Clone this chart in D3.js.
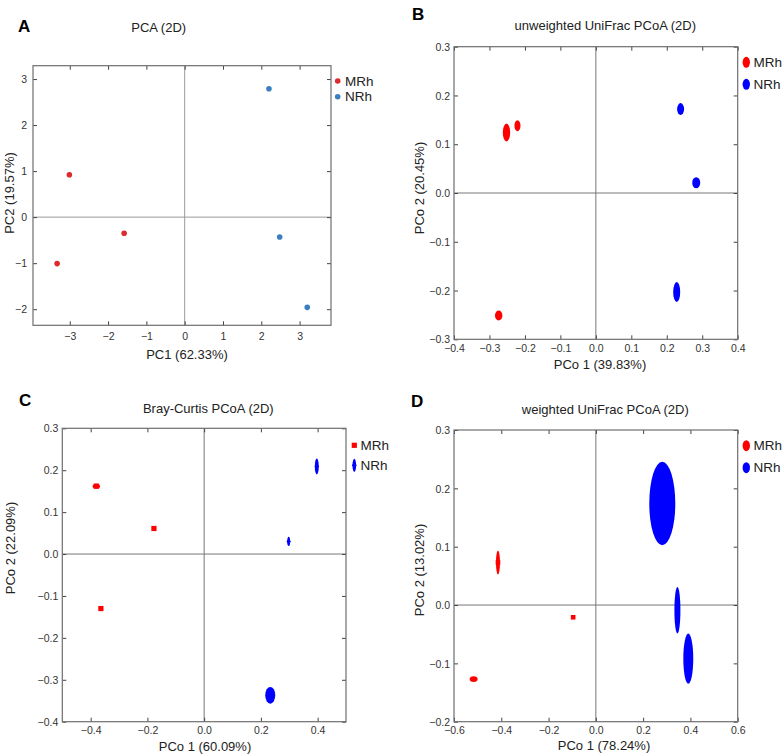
<!DOCTYPE html>
<html>
<head>
<meta charset="utf-8">
<script src="https://cdn.jsdelivr.net/npm/d3@7"></script>
<style>
  html, body { margin: 0; padding: 0; background: #fff; }
  svg { display: block; font-family: "Liberation Sans", Arial, sans-serif; }
</style>
</head>
<body>
<svg id="chart" width="784" height="755"></svg>
<script>
// ---------------- DATA ----------------
const groups = ["MRh", "NRh"];

// A: PCA (2D)
const pcaGroup = ["MRh", "MRh", "MRh", "NRh", "NRh", "NRh"];
const pcaX = [-3.01, -1.58, -3.33, 2.20, 2.48, 3.20];
const pcaY = [0.92, -0.35, -1.01, 2.79, -0.43, -1.96];
const pcaXTicks = [-3, -2, -1, 0, 1, 2, 3];
const pcaYTicks = [-2, -1, 0, 1, 2, 3];

// B: unweighted UniFrac PCoA (2D)
const unwGroup = ["MRh", "MRh", "MRh", "NRh", "NRh", "NRh"];
const unwX = [-0.252, -0.221, -0.274, 0.239, 0.283, 0.228];
const unwY = [0.124, 0.138, -0.251, 0.172, 0.021, -0.203];
const unwSpreadX = [0.0104, 0.0085, 0.0104, 0.0099, 0.0113, 0.0099];
const unwSpreadY = [0.0184, 0.0113, 0.0102, 0.0123, 0.0113, 0.0205];
const unwXTicks = [-0.4, -0.3, -0.2, -0.1, 0.0, 0.1, 0.2, 0.3, 0.4];
const unwYTicks = [-0.3, -0.2, -0.1, 0.0, 0.1, 0.2, 0.3];

// C: Bray-Curtis PCoA (2D)
const bcGroup = ["MRh", "MRh", "MRh", "NRh", "NRh", "NRh"];
const bcX = [-0.380, -0.177, -0.364, 0.397, 0.298, 0.233];
const bcY = [0.162, 0.061, -0.130, 0.209, 0.030, -0.337];
const bcSpreadX = [0.013, 0.0, 0.0, 0.007, 0.005, 0.0176];
const bcSpreadY = [0.006, 0.0, 0.0, 0.019, 0.011, 0.020];
const bcXTicks = [-0.4, -0.2, 0.0, 0.2, 0.4];
const bcYTicks = [-0.4, -0.3, -0.2, -0.1, 0.0, 0.1, 0.2, 0.3];

// D: weighted UniFrac PCoA (2D)
const wGroup = ["MRh", "MRh", "MRh", "NRh", "NRh", "NRh"];
const wX = [-0.414, -0.096, -0.517, 0.281, 0.345, 0.391];
const wY = [0.073, -0.021, -0.127, 0.174, -0.009, -0.092];
const wSpreadX = [0.0085, 0.0, 0.017, 0.055, 0.0127, 0.021];
const wSpreadY = [0.0206, 0.0, 0.0051, 0.0714, 0.040, 0.043];
const wXTicks = [-0.6, -0.4, -0.2, 0.0, 0.2, 0.4, 0.6];
const wYTicks = [-0.2, -0.1, 0.0, 0.1, 0.2, 0.3];

// ---------------- DRAW ----------------
const svg = d3.select("#chart");
const fmt1 = d3.format(".1f");
const fmt0 = d3.format("d");

const panels = [
  {
    letter: "A", title: "PCA (2D)", xLabel: "PC1 (62.33%)", yLabel: "PC2 (19.57%)",
    box: {l: 33, r: 331, t: 65.7, b: 325.3},
    xDom: [-3.96, 3.82], yDom: [-2.35, 3.29],
    xTicks: pcaXTicks, yTicks: pcaYTicks, fmt: fmt0,
    x: pcaX, y: pcaY, g: pcaGroup, sx: null, sy: null,
    colors: {MRh: "#dc2a2e", NRh: "#3b7fc0"},
    marker: "dot",
    letterPos: [18, 32], titlePos: [158.7, 32],
    xLabPos: [187, 359], yLabPos: [9.5, 193],
    legend: {x: 337.7, y: [81, 96.7], tx: 345, sym: ["dot", "dot"]},
    tickFont: 10.5, xTickY: 336, yTickGap: 6, zeroColor: "#9a9a9a"
  },
  {
    letter: "B", title: "unweighted UniFrac PCoA (2D)", xLabel: "PCo 1 (39.83%)", yLabel: "PCo 2 (20.45%)",
    box: {l: 454, r: 737.7, t: 46.7, b: 339.3},
    xDom: [-0.4, 0.4], yDom: [-0.3, 0.3],
    xTicks: unwXTicks, yTicks: unwYTicks, fmt: fmt1,
    x: unwX, y: unwY, g: unwGroup, sx: unwSpreadX, sy: unwSpreadY,
    colors: {MRh: "#ff0000", NRh: "#0000ff"},
    marker: "ellipse",
    letterPos: [412, 20], titlePos: [605.3, 29.5],
    xLabPos: [600, 368.5], yLabPos: [419, 188],
    legend: {x: 746.3, y: [62.3, 84.3], tx: 753.5, sym: ["ell", "ell"]},
    tickFont: 10.5, xTickY: 348, yTickGap: 4, zeroColor: "#777"
  },
  {
    letter: "C", title: "Bray-Curtis PCoA (2D)", xLabel: "PCo 1 (60.09%)", yLabel: "PCo 2 (22.09%)",
    box: {l: 62.3, r: 346, t: 428.3, b: 721.7},
    xDom: [-0.5, 0.5], yDom: [-0.4, 0.3],
    xTicks: bcXTicks, yTicks: bcYTicks, fmt: fmt1,
    x: bcX, y: bcY, g: bcGroup, sx: bcSpreadX, sy: bcSpreadY,
    colors: {MRh: "#ff0000", NRh: "#0000ff"},
    marker: "bc",
    letterPos: [19, 406], titlePos: [208.3, 412.5],
    xLabPos: [205, 750.5], yLabPos: [10.5, 548],
    legend: {x: 354.3, y: [445.3, 465.3], tx: 360.5, sym: ["sq", "dia"]},
    tickFont: 10.5, xTickY: 730, yTickGap: 4, zeroColor: "#777"
  },
  {
    letter: "D", title: "weighted UniFrac PCoA (2D)", xLabel: "PCo 1 (78.24%)", yLabel: "PCo 2 (13.02%)",
    box: {l: 454, r: 737.7, t: 430, b: 721.7},
    xDom: [-0.6, 0.6], yDom: [-0.2, 0.3],
    xTicks: wXTicks, yTicks: wYTicks, fmt: fmt1,
    x: wX, y: wY, g: wGroup, sx: wSpreadX, sy: wSpreadY,
    colors: {MRh: "#ff0000", NRh: "#0000ff"},
    marker: "w",
    letterPos: [411, 407], titlePos: [605.3, 413.5],
    xLabPos: [604, 749.5], yLabPos: [419, 570],
    legend: {x: 746.3, y: [445.7, 467.7], tx: 753.5, sym: ["ell", "ell"]},
    tickFont: 10.5, xTickY: 730, yTickGap: 4, zeroColor: "#777"
  }
];

panels.forEach(p => {
  const B = p.box;
  const xs = d3.scaleLinear().domain(p.xDom).range([B.l, B.r]);
  const ys = d3.scaleLinear().domain(p.yDom).range([B.b, B.t]);
  const g = svg.append("g");

  // panel letter & title
  g.append("text").attr("x", p.letterPos[0]).attr("y", p.letterPos[1])
    .attr("font-size", 17).attr("font-weight", "bold").attr("fill", "#000").text(p.letter);
  g.append("text").attr("x", p.titlePos[0]).attr("y", p.titlePos[1])
    .attr("text-anchor", "middle").attr("font-size", 13).attr("fill", "#222").text(p.title);

  // zero lines
  g.append("line").attr("x1", xs(0)).attr("x2", xs(0)).attr("y1", B.t).attr("y2", B.b)
    .attr("stroke", p.zeroColor).attr("stroke-width", 1);
  g.append("line").attr("x1", B.l).attr("x2", B.r).attr("y1", ys(0)).attr("y2", ys(0))
    .attr("stroke", p.zeroColor).attr("stroke-width", 1);

  // axes (ticks inward on all four sides)
  const tk = 4;
  const axB = g.append("g").attr("transform", `translate(0,${B.b})`)
    .call(d3.axisBottom(xs).tickValues(p.xTicks).tickSize(-tk).tickPadding(0).tickFormat(p.fmt));
  const axT = g.append("g").attr("transform", `translate(0,${B.t})`)
    .call(d3.axisTop(xs).tickValues(p.xTicks).tickSize(-tk).tickFormat(""));
  const axL = g.append("g").attr("transform", `translate(${B.l},0)`)
    .call(d3.axisLeft(ys).tickValues(p.yTicks).tickSize(-tk).tickPadding(0).tickFormat(p.fmt));
  const axR = g.append("g").attr("transform", `translate(${B.r},0)`)
    .call(d3.axisRight(ys).tickValues(p.yTicks).tickSize(-tk).tickFormat(""));
  [axB, axT, axL, axR].forEach(a => {
    a.select(".domain").remove();
    a.selectAll(".tick line").attr("stroke", "#444");
  });
  axB.selectAll(".tick text").attr("y", p.xTickY - B.b).attr("dy", "0.35em")
    .attr("font-size", p.tickFont).attr("fill", "#333").attr("font-family", "Liberation Sans, Arial, sans-serif");
  axL.selectAll(".tick text").attr("x", -p.yTickGap).attr("dy", "0.35em")
    .attr("font-size", p.tickFont).attr("fill", "#333").attr("font-family", "Liberation Sans, Arial, sans-serif");

  // box
  g.append("rect").attr("x", B.l).attr("y", B.t).attr("width", B.r - B.l).attr("height", B.b - B.t)
    .attr("fill", "none").attr("stroke", "#6e6e6e").attr("stroke-width", 1.2);

  // axis labels
  g.append("text").attr("x", p.xLabPos[0]).attr("y", p.xLabPos[1])
    .attr("text-anchor", "middle").attr("font-size", 13).attr("fill", "#222").text(p.xLabel);
  g.append("text").attr("transform", `translate(${p.yLabPos[0]},${p.yLabPos[1]}) rotate(-90)`)
    .attr("text-anchor", "middle").attr("dy", "0.35em").attr("font-size", 13).attr("fill", "#222").text(p.yLabel);

  // points
  const idx = d3.range(p.x.length);
  const pts = g.append("g");
  if (p.marker === "dot") {
    pts.selectAll("circle").data(idx).join("circle")
      .attr("cx", i => xs(p.x[i])).attr("cy", i => ys(p.y[i])).attr("r", 2.8)
      .attr("fill", i => p.colors[p.g[i]]);
  } else {
    const kx = Math.abs(xs(1) - xs(0)), ky = Math.abs(ys(1) - ys(0));
    pts.selectAll("ellipse").data(idx.filter(i => p.sx[i] > 0)).join("ellipse")
      .attr("cx", i => xs(p.x[i])).attr("cy", i => ys(p.y[i]))
      .attr("rx", i => p.sx[i] * kx).attr("ry", i => p.sy[i] * ky)
      .attr("fill", i => p.colors[p.g[i]]);
    if (p.marker === "bc") {
      pts.selectAll("rect.sq").data(idx.filter(i => p.g[i] === "MRh")).join("rect").attr("class", "sq")
        .attr("x", i => xs(p.x[i]) - 2.6).attr("y", i => ys(p.y[i]) - 2.6)
        .attr("width", 5.2).attr("height", 5.2).attr("fill", p.colors.MRh);
      pts.selectAll("path.dia").data(idx.filter(i => p.g[i] === "NRh")).join("path").attr("class", "dia")
        .attr("transform", i => `translate(${xs(p.x[i])},${ys(p.y[i])})`)
        .attr("d", "M0,-3L2.2,0L0,3L-2.2,0Z").attr("fill", p.colors.NRh);
    }
    if (p.marker === "w") {
      pts.selectAll("rect.sq").data(idx.filter(i => p.g[i] === "MRh" && i !== 2)).join("rect").attr("class", "sq")
        .attr("x", i => xs(p.x[i]) - 2.3).attr("y", i => ys(p.y[i]) - 2.3)
        .attr("width", 4.6).attr("height", 4.6).attr("fill", p.colors.MRh);
    }
  }

  // legend
  const L = p.legend;
  groups.forEach((grp, k) => {
    const cy = L.y[k], col = p.colors[grp], s = L.sym[k];
    if (s === "dot") {
      g.append("circle").attr("cx", L.x).attr("cy", cy).attr("r", 2.8).attr("fill", col);
    } else if (s === "ell") {
      g.append("ellipse").attr("cx", L.x).attr("cy", cy).attr("rx", 3.7).attr("ry", 5.5).attr("fill", col);
    } else if (s === "sq") {
      g.append("rect").attr("x", L.x - 2.6).attr("y", cy - 2.6).attr("width", 5.2).attr("height", 5.2).attr("fill", col);
    } else if (s === "dia") {
      g.append("ellipse").attr("cx", L.x).attr("cy", cy).attr("rx", 1.8).attr("ry", 6.5).attr("fill", col);
      g.append("path").attr("transform", `translate(${L.x},${cy})`).attr("d", "M0,-3L2.5,0L0,3L-2.5,0Z").attr("fill", col);
    }
    g.append("text").attr("x", L.tx).attr("y", cy).attr("dy", "0.35em")
      .attr("font-size", 13.5).attr("fill", "#222").text(grp);
  });
});
</script>
</body>
</html>
